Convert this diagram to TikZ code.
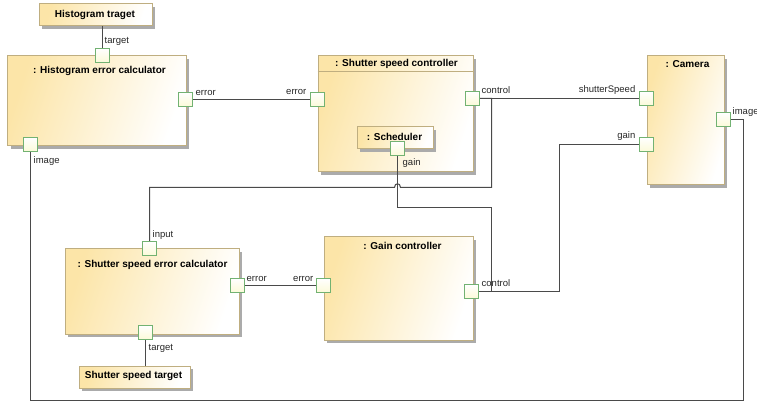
\documentclass[tikz,border=0pt]{standalone}
\usepackage{fontspec}
\setmainfont{Liberation Sans}
\usetikzlibrary{shadows}
\definecolor{boxtop}{HTML}{FCE5A8}
\definecolor{boxborder}{HTML}{BFAE80}
\definecolor{shadowgray}{HTML}{ABABAB}
\definecolor{portgreen}{HTML}{72B272}
\definecolor{portfill}{HTML}{FBFAD8}
\definecolor{wiregray}{HTML}{4A4A4A}
\begin{document}
\begin{tikzpicture}[x=1pt,y=-1pt,
  blk/.style={rectangle, draw=boxborder, line width=1pt, top color=boxtop, bottom color=white, shading angle=72,
    drop shadow={shadow xshift=3pt, shadow yshift=-3pt, fill=shadowgray, opacity=1}, inner sep=0pt, anchor=north west},
  ttl/.style={font=\bfseries\fontsize{10}{12}\selectfont, inner sep=0pt},
  prt/.style={rectangle, draw=portgreen, line width=1pt, top color=white, bottom color=portfill, minimum size=14pt, inner sep=0pt},
  lbl/.style={font=\fontsize{9.5}{11}\selectfont, inner sep=0pt, text=black!85},
  wire/.style={draw=wiregray, line width=1pt}]
\useasboundingbox (-0.5,-0.5) rectangle (756.5,402.5);

% boxes
\node[blk, minimum width=113pt, minimum height=22pt] (ht) at (38,3) {};
\node[ttl] (htt) at (94.5,14) {Histogram traget};
\node[blk, minimum width=178pt, minimum height=90pt] (hec) at (7,55) {};
\node[ttl] (hect) at (99,70) {: Histogram error calculator};
\node[blk, minimum width=155pt, minimum height=116pt] (ssc) at (317,55) {};
\draw[boxborder, line width=1pt] (ssc.north west |- 0,71) -- (ssc.north east |- 0,71);
\node[ttl] (ssct) at (396,63) {: Shutter speed controller};
\node[blk, minimum width=76pt, minimum height=22pt] (sch) at (356,126) {};
\node[ttl] (scht) at (394,136) {: Scheduler};
\node[blk, minimum width=77pt, minimum height=129pt] (cam) at (646,55) {};
\node[ttl] (camt) at (687,64) {: Camera};
\node[blk, minimum width=174pt, minimum height=85pt] (ssec) at (64,248) {};
\node[ttl] (ssect) at (152,264) {: Shutter speed error calculator};
\node[blk, minimum width=111pt, minimum height=22pt] (sst) at (78,365) {};
\node[ttl] (sstt) at (133,375) {Shutter speed target};
\node[blk, minimum width=149pt, minimum height=103pt] (gc) at (323,236) {};
\node[ttl] (gct) at (402,245) {: Gain controller};

% ports
\node[prt] (hec-tgt) at (102,55) {};
\node[prt] (hec-err) at (185,99) {};
\node[prt] (hec-img) at (30,144) {};
\node[prt] (ssc-err) at (317,99) {};
\node[prt] (ssc-ctl) at (472,98) {};
\node[prt] (sch-gain) at (397,148) {};
\node[prt] (cam-ss) at (646,98) {};
\node[prt] (cam-gain) at (646,144) {};
\node[prt] (cam-img) at (723,119) {};
\node[prt] (ssec-in) at (149,248) {};
\node[prt] (ssec-err) at (237,285) {};
\node[prt] (ssec-tgt) at (145,332) {};
\node[prt] (gc-err) at (323,285) {};
\node[prt] (gc-ctl) at (471,291) {};

% connectors
\draw[wire] (hec-tgt.north) -- (hec-tgt.north |- ht.south);
\draw[wire] (hec-err.east) -- (ssc-err.west);
\draw[wire] (ssc-ctl.east) -- (cam-ss.west);
\draw[wire] (ssc-ctl.east) -- (491,98) -- (491,187) -- (400,187)
  .. controls (400,182) and (394,182) .. (394,187) -- (149,187) -- (ssec-in.north);
\draw[wire] (sch-gain.south) -- (397,207) -- (491,207) -- (491,291) -- (gc-ctl.east);
\draw[wire] (gc-ctl.east) -- (559,291) -- (559,144) -- (cam-gain.west);
\draw[wire] (cam-img.east) -- (743,119) -- (743,400) -- (30,400) -- (hec-img.south);
\draw[wire] (ssec-err.east) -- (gc-err.west);
\draw[wire] (ssec-tgt.south) -- (ssec-tgt.south |- sst.north);

% port labels
\node[lbl, anchor=west] (l1) at (104,41) {target};
\node[lbl, anchor=west] (l2) at (195,92) {error};
\node[lbl, anchor=west] (l3) at (33,161) {image};
\node[lbl, anchor=east] (l4) at (306,91) {error};
\node[lbl, anchor=west] (l5) at (481,90) {control};
\node[lbl, anchor=east] (l6) at (635,90) {shutterSpeed};
\node[lbl, anchor=east] (l7) at (635,136) {gain};
\node[lbl, anchor=west] (l8) at (732,112) {image};
\node[lbl, anchor=west] (l9) at (402,163) {gain};
\node[lbl, anchor=west] (l10) at (152,235) {input};
\node[lbl, anchor=west] (l11) at (246,278) {error};
\node[lbl, anchor=east] (l12) at (313,278) {error};
\node[lbl, anchor=west] (l13) at (148,348) {target};
\node[lbl, anchor=west] (l14) at (481,283) {control};
\end{tikzpicture}
\end{document}
